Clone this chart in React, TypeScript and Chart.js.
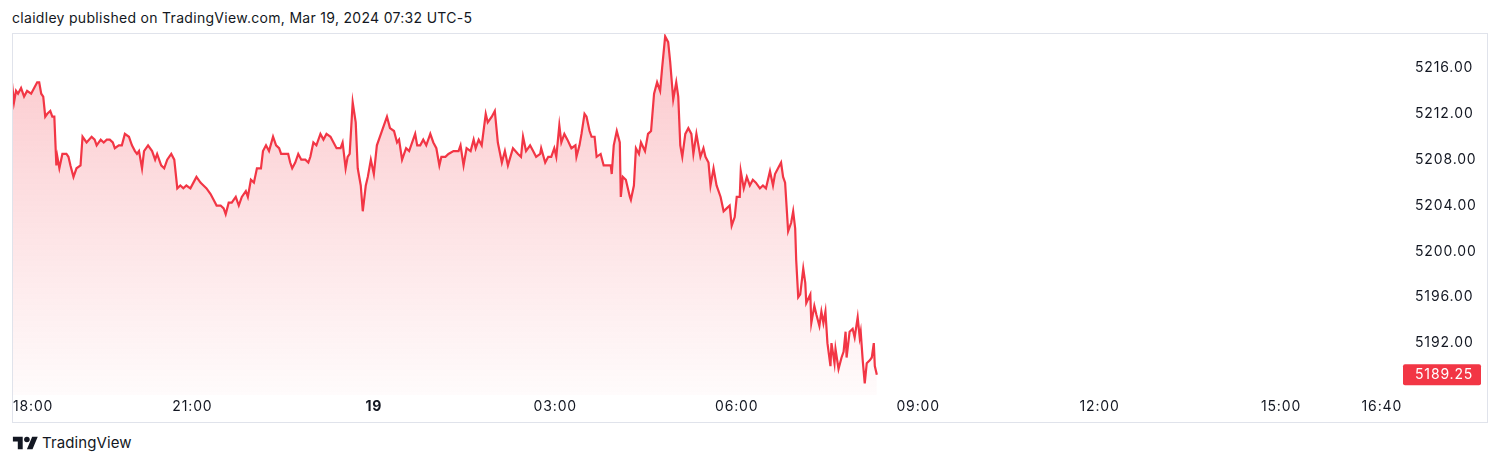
import React, { useEffect, useRef } from "react";
import { Chart, registerables } from "chart.js";

Chart.register(...registerables);

const RED = "#F23645";
const TEXT = "#131722";
const FONT = "Inter, 'Noto Sans', Roboto, sans-serif";
const AXIS_SPACING = "0.85px";

const headerText = "claidley published on TradingView.com, Mar 19, 2024 07:32 UTC-5";
const brandText = "TradingView";

// [minutes since 18:00, price]
const evening: [number, number][] = [
  [0, 5215.5], [3, 5213], [5, 5214], [7, 5213.75], [10, 5214.25], [13, 5213.5], [16, 5214], [20, 5213.75],
  [23, 5214.25], [26, 5214.75], [28, 5214.75], [30, 5213.75], [32, 5213.5], [34, 5211.75], [36, 5212],
  [39, 5212.25], [41, 5211.75], [43, 5211.75], [45, 5207.5], [46, 5208.25], [48, 5207.25], [51, 5208.5],
  [55, 5208.5], [57, 5208.25], [59, 5207.5], [62, 5206.5], [65, 5207.25], [69, 5207.5], [71, 5210],
  [75, 5209.5], [80, 5210], [83, 5209.75], [85, 5209.25], [89, 5209.75], [92, 5209.5], [95, 5209.75],
  [98, 5209.75], [101, 5209.5], [103, 5209], [107, 5209.25], [110, 5209.25], [113, 5210.25], [117, 5210],
  [120, 5209.25], [123, 5208.75], [125, 5208.5], [127, 5208.75], [130, 5207.25], [132, 5208.75], [136, 5209.25],
  [140, 5208.75], [143, 5208], [145, 5208.5], [149, 5207.5], [152, 5207.25], [155, 5208], [159, 5208.5],
  [162, 5208], [165, 5205.5], [168, 5205.75], [171, 5205.5], [174, 5205.75], [178, 5205.5], [181, 5206],
  [184, 5206.5], [188, 5206], [191, 5205.75], [194, 5205.5], [198, 5205], [201, 5204.5], [204, 5204],
  [208, 5204], [211, 5203.75], [213, 5203.25],
];

const overnight: [number, number][] = [
  [216, 5204.25], [219, 5204.25], [223, 5204.75], [226, 5204], [229, 5204.75], [233, 5205.25], [235, 5204.75],
  [238, 5206.25], [241, 5206], [244, 5207.25], [248, 5207.25], [250, 5208.75], [253, 5209.25], [256, 5208.75],
  [260, 5210], [263, 5209.25], [266, 5209], [268, 5208.5], [272, 5208.5], [275, 5208.5], [277, 5207.75],
  [279, 5207.25], [282, 5207.75], [285, 5208.5], [288, 5208], [292, 5208], [295, 5207.75], [297, 5208.25],
  [300, 5209.5], [303, 5209.25], [307, 5210.25], [310, 5209.75], [313, 5210.25], [317, 5210], [320, 5209.5],
  [323, 5209], [327, 5209], [329, 5209.5], [332, 5207.25], [334, 5208.25], [336, 5208.5], [339, 5213],
  [342, 5211.25], [344, 5207.25], [347, 5205.75], [349, 5203.5], [352, 5205.75], [354, 5206.5], [357, 5208],
  [360, 5206.75], [363, 5209.25], [367, 5210.25], [369, 5210.75], [373, 5211.75], [376, 5210.75], [380, 5210.5],
  [383, 5209.5], [385, 5209.75], [388, 5208], [392, 5209], [395, 5208.75], [398, 5209.5], [401, 5210.25],
  [403, 5209.25], [406, 5209.25], [409, 5209.75], [412, 5209.25], [416, 5210.25], [419, 5209.5], [422, 5209],
  [425, 5207.5], [427, 5208.25], [431, 5208.25], [434, 5208.5],
];

const earlyMorning: [number, number][] = [
  [439, 5208.75], [444, 5208.75], [446, 5209.25], [449, 5207.5], [452, 5209], [456, 5208.75], [459, 5209.75],
  [461, 5209], [464, 5209.75], [467, 5209.25], [471, 5212], [473, 5211.25], [477, 5211.75], [480, 5212.25],
  [483, 5209.5], [487, 5207.75], [490, 5208.75], [493, 5207.5], [498, 5209], [503, 5208.5], [506, 5208.25],
  [508, 5210], [511, 5208.75], [515, 5209.25], [518, 5208.75], [521, 5208.25], [525, 5208.5], [526, 5209],
  [530, 5207.75], [533, 5208.25], [536, 5208.25], [539, 5209], [541, 5208.25], [544, 5211], [546, 5209.5],
  [549, 5210.25], [552, 5209.75], [556, 5209], [560, 5209.25], [561, 5208.25], [564, 5209.25], [566, 5210.25],
  [569, 5212], [571, 5211.75], [574, 5210.5], [576, 5210], [579, 5210], [581, 5208.25], [585, 5208.5],
  [588, 5207.5], [591, 5207.5], [595, 5207.5], [596, 5206.75], [598, 5209.25], [601, 5210.5], [604, 5209.5],
  [605, 5204.75], [607, 5206.5], [610, 5206.25], [614, 5204.75], [615, 5204.5], [618, 5205.75], [620, 5209],
  [623, 5208.5], [625, 5209.5], [629, 5208.75], [632, 5210.25], [635, 5210.5], [638, 5213.75], [641, 5214.75],
  [644, 5214], [646, 5216], [649, 5218.75], [652, 5218.25], [654, 5216.5], [657, 5213.25], [660, 5214.75],
  [662, 5213.5],
];

const morning: [number, number][] = [
  [664, 5209.25], [666, 5208.25], [669, 5210.25], [672, 5210.75], [675, 5210.25], [677, 5208.5], [680, 5210.25],
  [684, 5208.25], [687, 5209], [689, 5208.25], [692, 5207.75], [694, 5205.75], [697, 5207.25], [700, 5205.75],
  [704, 5204.75], [707, 5203.5], [710, 5203.75], [713, 5204], [715, 5202.25], [718, 5203], [720, 5204.75],
  [723, 5204.75], [724, 5207], [727, 5205.5], [730, 5206.5], [733, 5205.75], [736, 5206.25], [739, 5206],
  [743, 5205.5], [746, 5205.75], [749, 5205.5], [753, 5207], [756, 5205.75], [758, 5206.75], [761, 5207.25],
  [764, 5207.75], [766, 5206.5], [768, 5206], [771, 5201.75], [774, 5202.5], [776, 5203.5], [778, 5202],
  [779, 5199.25], [781, 5196], [783, 5196.25], [786, 5198.5], [788, 5197.25], [789, 5195.5], [793, 5196.25],
  [794, 5193.75], [797, 5195.25], [799, 5194.5], [802, 5193.5], [804, 5194.75], [806, 5193.75], [808, 5194.75],
  [810, 5192], [813, 5190], [814, 5192], [817, 5190.25], [818, 5191.5], [821, 5189.75], [824, 5190.75],
  [826, 5191.25], [828, 5193], [829, 5190.75], [832, 5193], [835, 5193.25], [837, 5192.5], [840, 5194.25],
  [842, 5192.5], [843, 5193], [845, 5190.5], [847, 5188.5], [849, 5190.25], [852, 5190.5], [854, 5190.75],
  [856, 5192], [857, 5190], [859, 5189.25],
];

const priceTicks = [5192, 5196, 5200, 5204, 5208, 5212, 5216];
const timeTickMinutes = [0, 180, 360, 540, 720, 900, 1080, 1260, 1360];
const timeTickLabels = ["18:00", "21:00", "19", "03:00", "06:00", "09:00", "12:00", "15:00", "16:40"];
const boldTimeLabels = ["19"];
const lastPrice = 5189.25;

const X_MIN = 2;
const X_MAX = 1382;
const Y_MIN = 5187.48;
const Y_MAX = 5218.96;

export default function App() {
  const ref = useRef<HTMLCanvasElement>(null);

  useEffect(() => {
    const canvas = ref.current;
    if (!canvas) return;
    const series = [...evening, ...overnight, ...earlyMorning, ...morning];

    const spacingPlugin = {
      id: "axisLetterSpacing",
      beforeDraw(chart: any) {
        (chart.ctx as any).letterSpacing = AXIS_SPACING;
      },
    };

    const timeAxisPlugin = {
      id: "timeAxisLabels",
      afterDraw(chart: any) {
        const xs = chart.scales.x;
        const c = chart.ctx;
        c.save();
        (c as any).letterSpacing = AXIS_SPACING;
        c.fillStyle = TEXT;
        c.textBaseline = "middle";
        c.textAlign = "left";
        const y = xs.top + 12;
        timeTickMinutes.forEach((m, i) => {
          const label = timeTickLabels[i];
          const bold = boldTimeLabels.includes(label);
          c.font = `${bold ? 700 : 400} 14px ${FONT}`;
          const w = c.measureText(label).width;
          const px = xs.getPixelForValue(m);
          let left = px - w / 2;
          if (left < 0) left = 0;
          c.fillText(label, left, y);
        });
        c.restore();
      },
    };

    const lastPricePlugin = {
      id: "lastPriceLabel",
      afterDraw(chart: any) {
        const ys = chart.scales.y;
        const c = chart.ctx;
        const y = ys.getPixelForValue(lastPrice);
        const bx = ys.left - 1;
        const bw = 78;
        const bh = 21;
        c.save();
        (c as any).letterSpacing = AXIS_SPACING;
        c.fillStyle = RED;
        c.beginPath();
        (c as any).roundRect(bx, y - bh / 2, bw, bh, 2);
        c.fill();
        c.fillStyle = "#ffffff";
        c.font = `400 14px ${FONT}`;
        c.textBaseline = "middle";
        c.textAlign = "left";
        c.fillText(lastPrice.toFixed(2), ys.left + 11, y + 0.5);
        c.restore();
      },
    };

    const chart = new Chart(canvas, {
      type: "line",
      data: {
        datasets: [
          {
            data: series.map(([m, p]) => ({ x: m, y: p })),
            borderColor: RED,
            borderWidth: 2.2,
            pointRadius: 0,
            tension: 0,
            fill: "start",
            backgroundColor: (ctx: any) => {
              const area = ctx.chart.chartArea;
              if (!area) return "rgba(242,54,69,0.15)";
              const g = ctx.chart.ctx.createLinearGradient(0, area.top, 0, area.bottom);
              g.addColorStop(0, "rgba(242,54,69,0.28)");
              g.addColorStop(1, "rgba(242,54,69,0.02)");
              return g;
            },
          },
        ],
      },
      options: {
        animation: false,
        responsive: false,
        maintainAspectRatio: false,
        events: [],
        layout: { padding: 0 },
        plugins: { legend: { display: false }, tooltip: { enabled: false } },
        scales: {
          x: {
            type: "linear",
            min: X_MIN,
            max: X_MAX,
            grid: { display: false, drawTicks: false },
            border: { display: false },
            ticks: { display: false },
            afterBuildTicks: (s: any) => {
              s.ticks = timeTickMinutes.map((v) => ({ value: v }));
            },
            afterFit: (s: any) => {
              s.height = 27;
              s.paddingLeft = 0;
              s.paddingRight = 0;
            },
          },
          y: {
            type: "linear",
            position: "right",
            min: Y_MIN,
            max: Y_MAX,
            grid: { display: false, drawTicks: false },
            border: { display: false },
            ticks: {
              padding: 11,
              color: TEXT,
              crossAlign: "near",
              font: { family: FONT, size: 14 },
              callback: (v: any) => Number(v).toFixed(2),
            },
            afterBuildTicks: (s: any) => {
              s.ticks = priceTicks.map((v) => ({ value: v }));
            },
            afterFit: (s: any) => {
              s.width = 83;
              s.paddingTop = 0;
              s.paddingBottom = 0;
            },
          },
        },
      } as any,
      plugins: [spacingPlugin, timeAxisPlugin, lastPricePlugin],
    });
    return () => chart.destroy();
  }, []);

  return (
    <div style={{ position: "absolute", left: 0, top: 0, width: 1500, height: 465, fontFamily: FONT, color: TEXT, background: "#ffffff" }}>
      <div style={{ position: "absolute", left: 12, top: 9, fontSize: 14, lineHeight: "18px", letterSpacing: "0.3px", whiteSpace: "nowrap" }}>{headerText}</div>
      <div style={{ position: "absolute", left: 12, top: 33, width: 1476, height: 390, border: "1px solid #E0E3EB", boxSizing: "border-box" }}>
        <canvas ref={ref} width={1474} height={388} style={{ display: "block", width: 1474, height: 388 }} />
      </div>
      <div style={{ position: "absolute", left: 12, top: 434, height: 18, display: "flex", alignItems: "center" }}>
        <svg width="27" height="14" viewBox="0 3 36 20" style={{ display: "block" }}>
          <path d="M14 22H7V11H0V4h14v18zM28 22h-8l7.5-18h8L28 22z" fill={TEXT} />
          <circle cx="20" cy="8" r="4" fill={TEXT} />
        </svg>
        <span style={{ marginLeft: 3, fontSize: 15, lineHeight: "18px", letterSpacing: "0.1px" }}>{brandText}</span>
      </div>
    </div>
  );
}
